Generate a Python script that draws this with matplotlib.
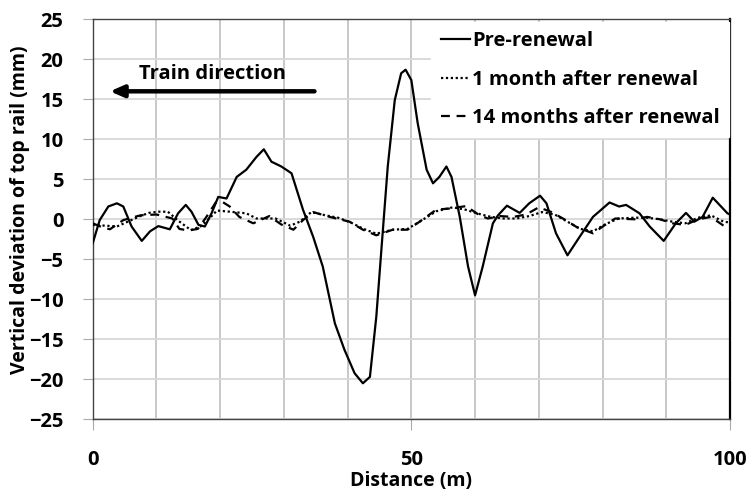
import numpy as np
import matplotlib
matplotlib.use("Agg")
import matplotlib.pyplot as plt

# Data (distance in m, deviation in mm)
pre_x = [0, 1.1, 2.45, 3.8, 4.8, 6.1, 7.7, 9.0, 10.3, 12.1, 13.4, 14.6, 15.5, 16.6, 17.6,
         18.65, 19.7, 21.0, 22.6, 24.1, 25.7, 26.85, 28.05, 29.6, 31.2, 33.0, 34.6, 36.1,
         38.0, 39.5, 41.1, 42.4, 43.5, 44.5, 45.3, 46.3, 47.4, 48.4, 49.1, 50.0, 51.0,
         52.4, 53.4, 54.4, 55.5, 56.3, 57.6, 58.9, 60.0, 61.2, 62.8, 63.6, 65.0, 67.0,
         68.5, 70.2, 71.2, 72.7, 74.5, 76.4, 78.5, 81.1, 82.6, 83.7, 85.8, 87.4, 89.6,
         91.5, 93.1, 94.4, 95.7, 97.3, 99.6, 100]
pre_y = [-3.0, -0.1, 1.6, 2.0, 1.6, -0.9, -2.7, -1.5, -0.85, -1.25, 0.75, 1.8, 0.95, -0.7,
         -0.9, 0.75, 2.8, 2.6, 5.3, 6.2, 7.8, 8.75, 7.2, 6.6, 5.75, 1.2, -2.2, -5.9,
         -13.0, -16.3, -19.25, -20.5, -19.7, -12.2, -3.8, 6.6, 14.9, 18.25, 18.7, 17.4,
         12.0, 6.2, 4.5, 5.3, 6.6, 5.3, 0.3, -5.9, -9.5, -5.9, -0.5, 0.5, 1.7, 0.8,
         2.0, 2.95, 2.0, -1.75, -4.5, -2.2, 0.3, 2.1, 1.6, 1.8, 0.75, -0.9, -2.7,
         -0.5, 0.8, -0.3, 0.3, 2.7, 0.75, 0.6]

m1_x = [0, 2, 3.8, 5.5, 7.3, 8.8, 10.3, 11.8, 13.3, 15.4, 16.9, 18.3, 19.5, 21.5, 24.1,
        25.7, 28.7, 31.0, 32.5, 34.3, 36.5, 38.5, 40.5, 42.5, 44.5, 47.1, 49.4, 51.3,
        53.9, 56.5, 58.5, 60.5, 62.5, 64.5, 66.5, 68.5, 70.5, 72.5, 74.5, 76.5, 78.5,
        80.5, 82.5, 85, 87, 89, 91, 93, 95, 97, 99, 100]
m1_y = [-0.7, -0.8, -0.9, -0.3, 0.35, 0.8, 0.95, 0.95, -0.1, -1.35, -0.9, 0.1, 1.1, 0.95,
        0.75, 0.1, 0.1, -0.8, -0.3, 0.9, 0.5, 0.2, -0.4, -1.2, -1.8, -1.3, -1.2, -0.3,
        1.0, 1.5, 1.2, 0.7, 0.3, 0.1, 0.1, 0.4, 0.9, 0.6, -0.3, -1.2, -1.5, -0.6, 0.1,
        0.2, 0.2, 0.0, -0.3, -0.5, 0.2, 0.5, -0.3, -0.4]

m14_x = [0, 1.5, 2.7, 4.8, 7.5, 10.0, 12.5, 13.6, 15.0, 16.5, 17.8, 19.3, 20.3, 21.5, 23.0,
         25.2, 27.7, 29.6, 31.5, 33.0, 34.6, 37.2, 40.3, 42.4, 44.5, 47.1, 49.4, 51.3,
         53.9, 56.0, 58.6, 60.7, 62, 64, 66, 68, 70, 72, 74, 76, 78.5, 80.4, 82, 85, 87,
         89, 91, 93, 95, 97, 99, 100]
m14_y = [-0.5, -1.0, -1.25, -0.1, 0.5, 0.6, 0.1, -1.2, -1.4, -1.2, 0.25, 2.1, 2.2, 1.6,
         0.3, -0.5, 0.4, -0.65, -1.3, -0.1, 0.9, 0.3, -0.3, -1.3, -2.0, -1.3, -1.3, -0.3,
         1.2, 1.35, 1.65, 0.5, 0.1, 0.4, 0.3, 0.6, 1.5, 0.9, 0.0, -1.0, -1.75, -0.7, 0.1,
         0.0, 0.3, 0.0, -0.5, -0.7, 0.0, 0.3, -0.8, -0.5]

FONT = "Open Sans"

fig = plt.figure(figsize=(7.5, 4.9), dpi=100)
ax = fig.add_axes([0.1236, 0.1443, 0.9733 - 0.1236, 0.9606 - 0.1443])

ax.plot(pre_x, pre_y, color="black", lw=1.6, label="Pre-renewal", zorder=3)
ax.plot(m1_x, m1_y, color="black", lw=1.6, ls=(0, (1, 1.2)), label="1 month after renewal", zorder=3)
ax.plot(m14_x, m14_y, color="black", lw=1.6, ls=(0, (4, 3)), label="14 months after renewal", zorder=3)

ax.set_xlim(0, 100)
ax.set_ylim(-25, 25)
ax.set_xticks([0, 50, 100])
ax.set_xticks(np.arange(0, 101, 10), minor=True)
ax.set_yticks(np.arange(-25, 26, 5))
ax.grid(True, which="both", axis="x", color="#c8c8c8", lw=1.4)
ax.grid(True, which="major", axis="y", color="#d9d9d9", lw=1.4)
ax.set_axisbelow(True)
ax.tick_params(axis="x", which="major", length=8, width=0.8, color="#aaaaaa", pad=14)
ax.tick_params(axis="x", which="minor", length=0)
ax.tick_params(axis="y", length=7, width=0.8, color="#aaaaaa", pad=14)
for lab in ax.get_xticklabels() + ax.get_yticklabels():
    lab.set_fontfamily(FONT)
    lab.set_fontweight("bold")
    lab.set_fontsize(14.5)

for s in ax.spines.values():
    s.set_color("#444444")
    s.set_linewidth(1.0)
ax.spines["right"].set_color("black")
ax.spines["right"].set_linewidth(1.6)

# axis titles placed in figure pixels to match the reference
fig.text(411 / 750, 1 - 486 / 490, "Distance (m)", fontfamily=FONT, fontweight="bold",
         fontsize=14, ha="center", va="baseline")
fig.text(20 / 750, 1 - 210 / 490, "Vertical deviation of top rail (mm)", fontfamily=FONT,
         fontweight="bold", fontsize=14, rotation=90, ha="center", va="center")

ax.annotate("", xy=(2.7, 16.0), xytext=(34.8, 16.0),
            arrowprops=dict(arrowstyle="-|>,head_length=0.8,head_width=0.35",
                            color="black", lw=3.2, shrinkA=0, shrinkB=0))
ax.text(18.8, 18.2, "Train direction", fontfamily=FONT, fontweight="bold", fontsize=14.5,
        ha="center", va="center")

leg = ax.legend(loc="upper right", bbox_to_anchor=(1.0, 0.995), frameon=True,
                prop=dict(family=FONT, weight="bold", size=14.5), handlelength=1.45,
                handletextpad=0.12, labelspacing=0.92, borderaxespad=0.05,
                borderpad=0.45, fancybox=False)
leg.get_frame().set_edgecolor("white")
leg.get_frame().set_facecolor("white")
leg.get_frame().set_alpha(1)

fig.savefig("out.png", dpi=100)
